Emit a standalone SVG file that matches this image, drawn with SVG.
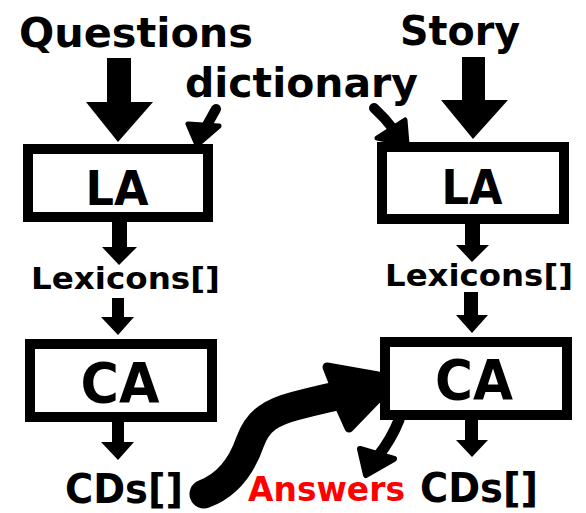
<svg xmlns="http://www.w3.org/2000/svg" width="586" height="513" viewBox="0 0 586 513">
<style>
  .t { font-family: "DejaVu Sans", "Liberation Sans", sans-serif; font-weight: bold; fill: #000; }
  .box { fill: #fff; stroke: #000; stroke-width: 10; }
  .arr { fill: #000; }
  .brush { fill: none; stroke: #000; stroke-linecap: round; stroke-linejoin: round; }
  .blob { fill: #000; stroke: #000; stroke-linejoin: round; }
</style>
<rect width="586" height="513" fill="#fff"/>

<g id="connectors">
  <!-- big input arrows -->
  <polygon class="arr" points="107,58 131,58 131,102 153,102 118,142 86,102 107,102"/>
  <polygon class="arr" points="462,57 485,57 485,100 508,100 473,139 441,100 462,100"/>
  <!-- LA -> Lexicons -->
  <polygon class="arr" points="112,222 127,222 127,247 137,247 119,265 102,247 112,247"/>
  <polygon class="arr" points="465,222 480,222 480,245 489,245 472,262 456,245 465,245"/>
  <!-- Lexicons -> CA -->
  <polygon class="arr" points="112,298 124,298 124,317 134,317 118,335 101,317 112,317"/>
  <polygon class="arr" points="464,292 478,292 478,315 488,315 472,333 456,315 464,315"/>
  <!-- CA -> CDs -->
  <polygon class="arr" points="112,420 124,420 124,442 134,442 118,460 101,442 112,442"/>
  <polygon class="arr" points="465,418 478,418 478,440 488,440 472,457 456,440 465,440"/>
  <!-- dictionary arrows -->
  <path class="brush" stroke-width="10" d="M216,109 Q210,120 203,132"/>
  <polygon class="blob" stroke-width="5" points="188,124 219,126 197,145"/>
  <path class="brush" stroke-width="10" d="M374,108 Q385,118 394,130"/>
  <polygon class="blob" stroke-width="5" points="377,138 405,120 407,144"/>
  <!-- hand-drawn brush arrow from CDs[] to CA -->
  <path class="brush" stroke-width="29" d="M204,494 C228,485 242,465 250,442 C258,420 272,412 295,406 C318,400 335,396 352,393"/>
  <polygon class="blob" stroke-width="9" points="327,367 378,376 378,398 349,428 340,408 334,385"/>
  <!-- answers arrow from CA -->
  <path class="brush" stroke-width="11" d="M399,420 Q391,440 378,456"/>
  <polygon class="blob" stroke-width="6" points="360,449 394,459 366,475"/>
</g>

<g id="questions"><text class="t" x="19" y="47" font-size="40" textLength="234" lengthAdjust="spacingAndGlyphs">Questions</text></g>
<g id="story"><text class="t" x="400" y="45" font-size="41" textLength="120" lengthAdjust="spacingAndGlyphs">Story</text></g>
<g id="dictionary"><text class="t" x="185" y="97" font-size="40" textLength="233" lengthAdjust="spacingAndGlyphs">dictionary</text></g>

<g id="la-left"><rect class="box" x="28" y="149" width="180" height="68"/><text class="t" x="117" y="205" font-size="48" text-anchor="middle" textLength="63" lengthAdjust="spacingAndGlyphs">LA</text></g>
<g id="la-right"><rect class="box" x="382" y="147" width="182" height="72"/><text class="t" x="472" y="204" font-size="48" text-anchor="middle" textLength="61" lengthAdjust="spacingAndGlyphs">LA</text></g>

<g id="lex-left"><text class="t" x="31" y="289" font-size="30" textLength="189" lengthAdjust="spacingAndGlyphs">Lexicons[]</text></g>
<g id="lex-right"><text class="t" x="385" y="286" font-size="30" textLength="188" lengthAdjust="spacingAndGlyphs">Lexicons[]</text></g>

<g id="ca-left"><rect class="box" x="30" y="344" width="182" height="73"/><text class="t" x="120" y="402" font-size="55" text-anchor="middle" textLength="79" lengthAdjust="spacingAndGlyphs">CA</text></g>
<g id="ca-right"><rect class="box" x="385" y="342" width="182" height="73"/><text class="t" x="474" y="399" font-size="55" text-anchor="middle" textLength="78" lengthAdjust="spacingAndGlyphs">CA</text></g>

<g id="cds-left"><text class="t" x="65" y="503" font-size="40" textLength="118" lengthAdjust="spacingAndGlyphs">CDs[]</text></g>
<g id="cds-right"><text class="t" x="420" y="502" font-size="40" textLength="118" lengthAdjust="spacingAndGlyphs">CDs[]</text></g>
<g id="answers"><text class="t" x="248" y="501" font-size="33" fill="#ff0000" style="fill:#ff0000" textLength="157" lengthAdjust="spacingAndGlyphs">Answers</text></g>
</svg>
